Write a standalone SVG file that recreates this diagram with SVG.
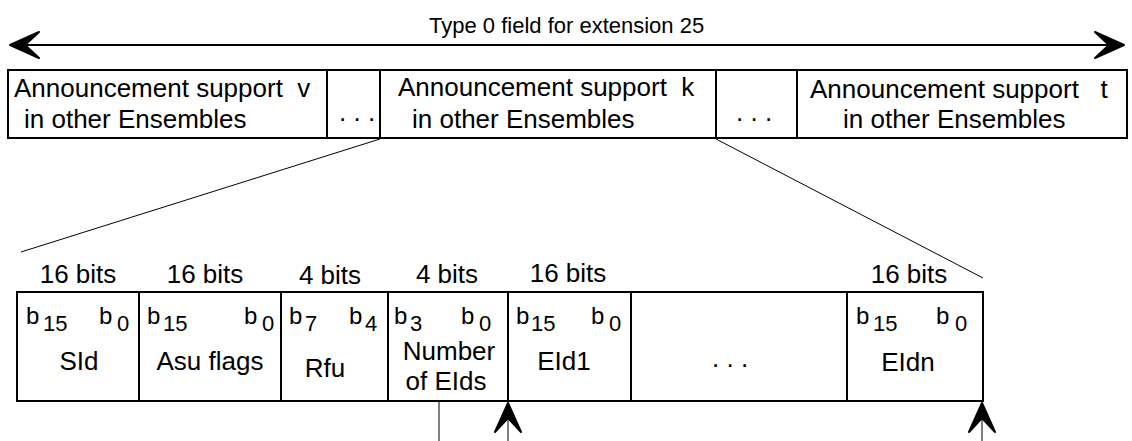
<svg xmlns="http://www.w3.org/2000/svg" width="1132" height="441" viewBox="0 0 1132 441">
<style>
text{font-family:"Liberation Sans",Arial,sans-serif;fill:#000;white-space:pre}
.t{font-size:26px}
.title{font-size:22px}
.bits{font-size:26px;text-anchor:middle}
.lbl{font-size:26px;text-anchor:middle}
.b{font-size:24px}
.s{font-size:22px}
.box{fill:#fff;stroke:#000;stroke-width:2}
.thin{stroke:#000;stroke-width:1;fill:none}
.arr{stroke:#000;stroke-width:2;fill:none}
</style>
<defs>
<marker id="barb" viewBox="-2 -2 34 34" refX="30" refY="15" markerWidth="34" markerHeight="34" markerUnits="userSpaceOnUse" orient="auto-start-reverse">
<path d="M30,15 L1,2 L15,15 L1,28 Z" fill="#000" stroke="#000" stroke-width="2" stroke-linejoin="round"/>
</marker>
</defs>
<rect width="1132" height="441" fill="#fff"/>
<g id="title"><text class="title" x="429" y="33">Type 0 field for extension 25</text></g>
<g id="connectors">
<line class="arr" x1="10" y1="45" x2="1124" y2="45" marker-start="url(#barb)" marker-end="url(#barb)"/>
<line class="thin" x1="380" y1="139" x2="21" y2="252"/>
<line class="thin" x1="716" y1="139" x2="983" y2="278"/>
<line class="thin" x1="439" y1="401" x2="439" y2="441"/>
<line class="thin" x1="508" y1="441" x2="508" y2="403" marker-end="url(#barb)"/>
<line class="thin" x1="982" y1="441" x2="982" y2="403" marker-end="url(#barb)"/>
</g>
<g id="top-v">
<rect class="box" x="8" y="70" width="319" height="68"/>
<text class="t" x="14" y="97">Announcement support&#160; v</text>
<text class="t" x="24" y="128">in other Ensembles</text>
</g>
<g id="top-dots1">
<rect class="box" x="327" y="70" width="53" height="68"/>
<text class="t" x="339" y="121">. . .</text>
</g>
<g id="top-k">
<rect class="box" x="380" y="70" width="336" height="68"/>
<text class="t" x="398" y="96">Announcement support&#160; k</text>
<text class="t" x="412" y="128">in other Ensembles</text>
</g>
<g id="top-dots2">
<rect class="box" x="716" y="70" width="81" height="68"/>
<text class="t" x="736" y="121">. . .</text>
</g>
<g id="top-t">
<rect class="box" x="797" y="70" width="330" height="68"/>
<text class="t" x="810" y="98">Announcement support&#160;&#160; t</text>
<text class="t" x="843" y="128">in other Ensembles</text>
</g>
<g id="sid">
<text class="bits" x="78" y="283">16 bits</text>
<rect class="box" x="17" y="292" width="122" height="109"/>
<text class="b" x="26" y="324">b</text><text class="s" x="43" y="331">15</text>
<text class="b" x="99" y="324">b</text><text class="s" x="117" y="331">0</text>
<text class="lbl" x="79" y="370">SId</text>
</g>
<g id="asu">
<text class="bits" x="205" y="283">16 bits</text>
<rect class="box" x="139" y="292" width="142" height="109"/>
<text class="b" x="147" y="324">b</text><text class="s" x="163" y="331">15</text>
<text class="b" x="244" y="324">b</text><text class="s" x="262" y="331">0</text>
<text class="lbl" x="210" y="370">Asu flags</text>
</g>
<g id="rfu">
<text class="bits" x="330" y="284">4 bits</text>
<rect class="box" x="281" y="292" width="107" height="109"/>
<text class="b" x="289" y="324">b</text><text class="s" x="305" y="331">7</text>
<text class="b" x="349" y="324">b</text><text class="s" x="365" y="331">4</text>
<text class="lbl" x="325" y="377">Rfu</text>
</g>
<g id="num">
<text class="bits" x="447" y="283">4 bits</text>
<rect class="box" x="388" y="292" width="120" height="109"/>
<text class="b" x="394" y="324">b</text><text class="s" x="410" y="331">3</text>
<text class="b" x="461" y="324">b</text><text class="s" x="479" y="331">0</text>
<text class="lbl" x="449" y="360">Number</text>
<text class="lbl" x="446" y="390">of EIds</text>
</g>
<g id="eid1">
<text class="bits" x="568" y="282">16 bits</text>
<rect class="box" x="508" y="292" width="123" height="109"/>
<text class="b" x="516" y="324">b</text><text class="s" x="531" y="331">15</text>
<text class="b" x="591" y="324">b</text><text class="s" x="609" y="331">0</text>
<text class="lbl" x="564" y="370">EId1</text>
</g>
<g id="dots">
<rect class="box" x="631" y="292" width="216" height="109"/>
<text class="t" x="712" y="367">. . .</text>
</g>
<g id="eidn">
<text class="bits" x="909" y="283">16 bits</text>
<rect class="box" x="847" y="292" width="136" height="109"/>
<text class="b" x="856" y="324">b</text><text class="s" x="873" y="331">15</text>
<text class="b" x="936" y="324">b</text><text class="s" x="955" y="331">0</text>
<text class="lbl" x="908" y="371">EIdn</text>
</g>
</svg>
